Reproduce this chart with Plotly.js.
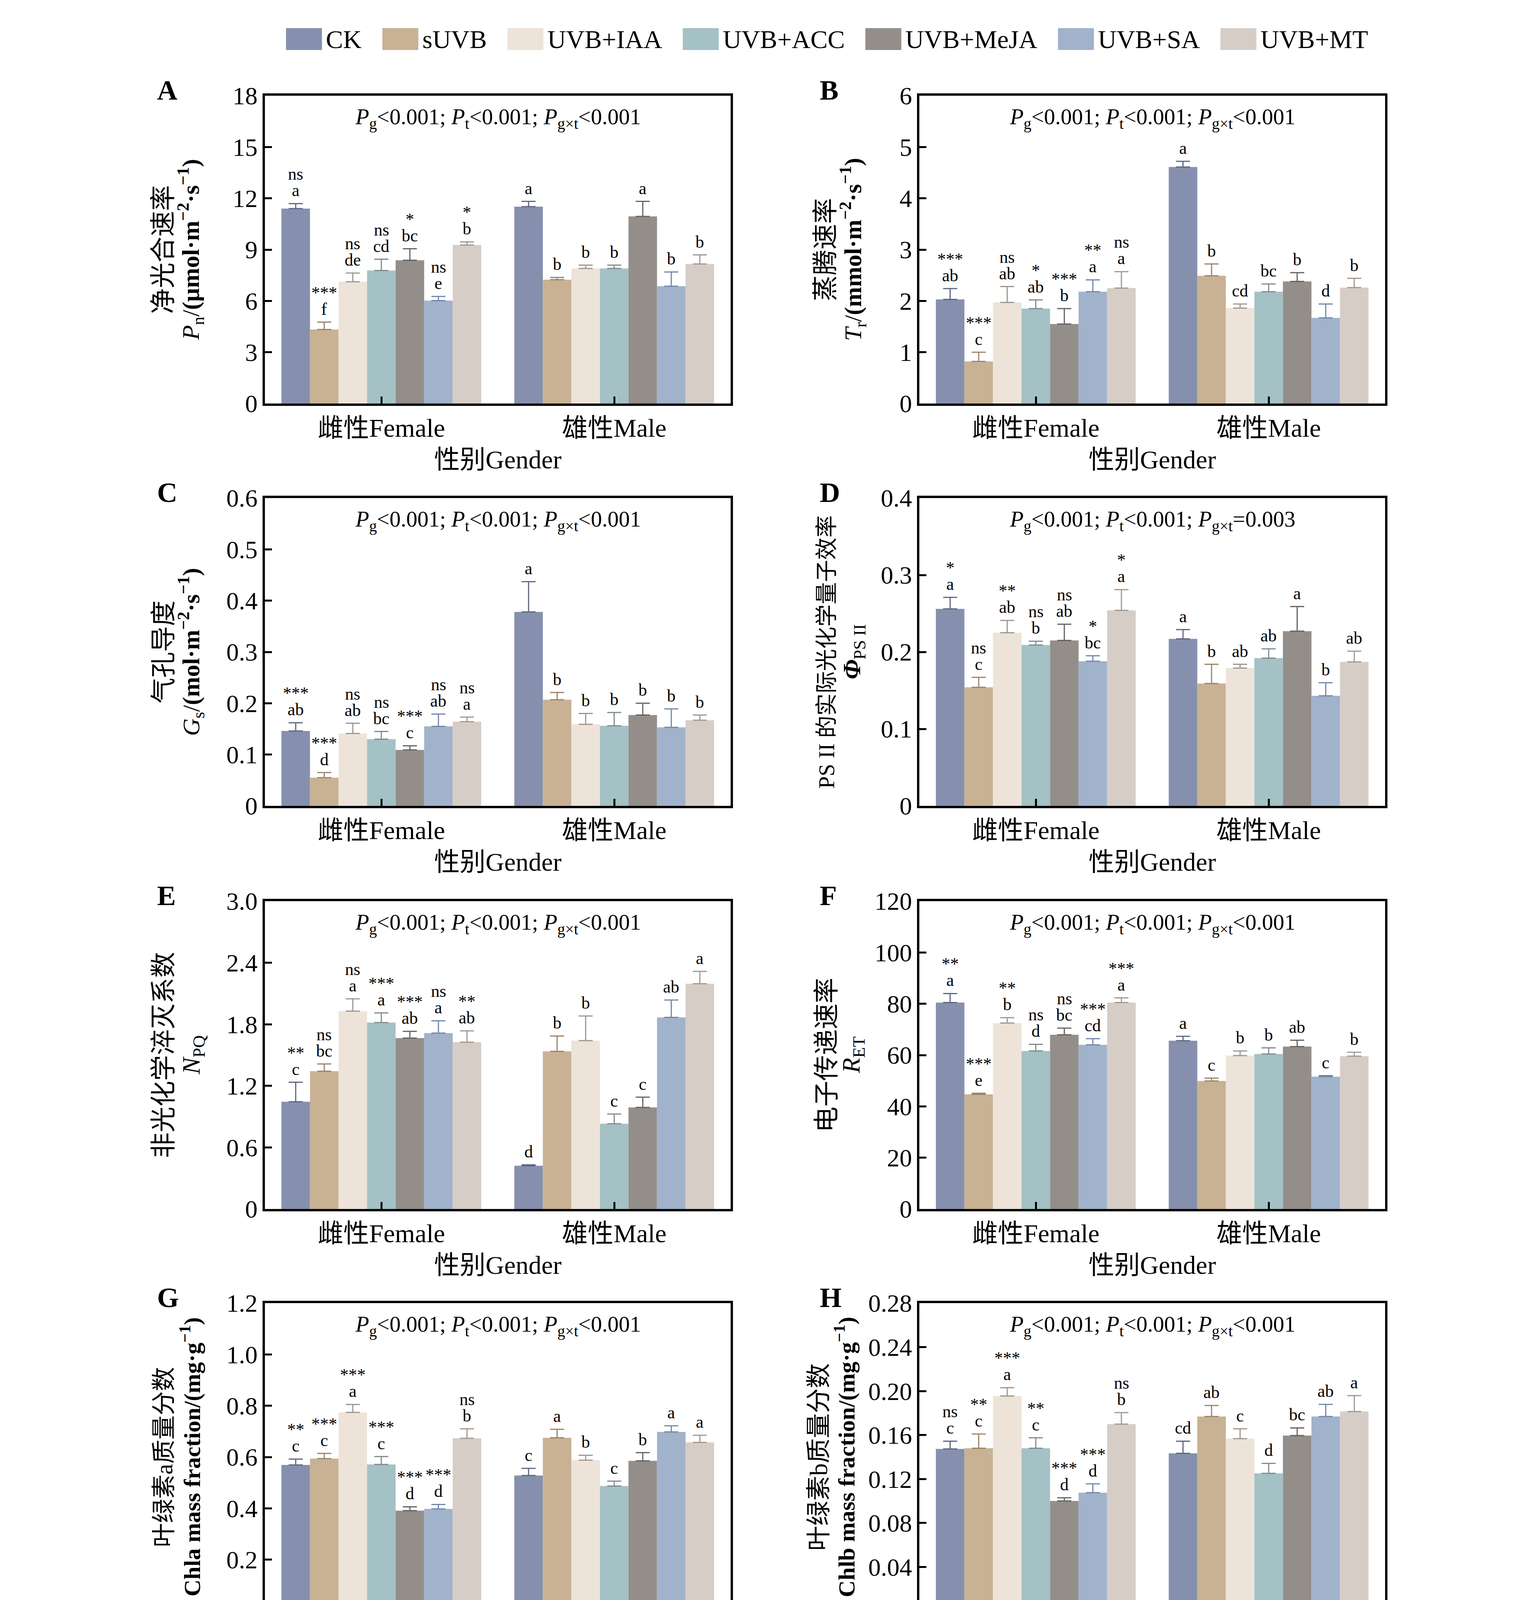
<!DOCTYPE html>
<html>
<head>
<meta charset="utf-8">
<script src="https://cdn.plot.ly/plotly-3.0.1.min.js"></script>
<style>
  body { margin: 0; background: #fff; }
  #chart { width: 3898px; height: 5339px; }
</style>
</head>
<body>
<div id="chart"></div>
<script>
// treatments and groups
const treatments = ["CK", "sUVB", "UVB+IAA", "UVB+ACC", "UVB+MeJA", "UVB+SA", "UVB+MT"];
const genders = ["雌性Female", "雄性Male"];

// A: net photosynthetic rate  [female, male]
const pnMean = [[11.40, 4.33, 7.12, 7.78, 8.38, 6.02, 9.27], [11.51, 7.24, 7.90, 7.90, 10.94, 6.86, 8.16]];
const pnErr = [[0.29, 0.43, 0.51, 0.66, 0.67, 0.24, 0.18], [0.31, 0.13, 0.19, 0.19, 0.88, 0.83, 0.53]];
const pnLetters = [["a", "f", "de", "cd", "bc", "e", "b"], ["a", "b", "b", "b", "a", "b", "b"]];
const pnSig = ["ns", "***", "ns", "ns", "*", "ns", "*"];
const pnTicks = ["0", "3", "6", "9", "12", "15", "18"];

// B: transpiration rate
const trMean = [[2.03, 0.82, 1.97, 1.85, 1.55, 2.18, 2.25], [4.61, 2.49, 1.86, 2.18, 2.38, 1.67, 2.26]];
const trErr = [[0.21, 0.18, 0.31, 0.17, 0.30, 0.23, 0.32], [0.11, 0.23, 0.08, 0.15, 0.17, 0.27, 0.18]];
const trLetters = [["ab", "c", "ab", "ab", "b", "a", "a"], ["a", "b", "cd", "bc", "b", "d", "b"]];
const trSig = ["***", "***", "ns", "*", "***", "**", "ns"];
const trTicks = ["0", "1", "2", "3", "4", "5", "6"];

// C: stomatal conductance
const gsMean = [[0.146, 0.055, 0.141, 0.130, 0.109, 0.155, 0.164], [0.378, 0.207, 0.159, 0.156, 0.177, 0.153, 0.167]];
const gsErr = [[0.016, 0.010, 0.020, 0.015, 0.008, 0.024, 0.009], [0.059, 0.014, 0.021, 0.026, 0.023, 0.036, 0.010]];
const gsLetters = [["ab", "d", "ab", "bc", "c", "ab", "a"], ["a", "b", "b", "b", "b", "b", "b"]];
const gsSig = ["***", "***", "ns", "ns", "***", "ns", "ns"];
const gsTicks = ["0", "0.1", "0.2", "0.3", "0.4", "0.5", "0.6"];

// D: actual photochemical efficiency of PSII
const phiMean = [[0.256, 0.154, 0.225, 0.209, 0.215, 0.188, 0.254], [0.217, 0.159, 0.179, 0.192, 0.227, 0.143, 0.187]];
const phiErr = [[0.015, 0.013, 0.016, 0.005, 0.021, 0.007, 0.027], [0.012, 0.025, 0.005, 0.012, 0.032, 0.017, 0.014]];
const phiLetters = [["a", "c", "ab", "b", "ab", "bc", "a"], ["a", "b", "ab", "ab", "a", "b", "ab"]];
const phiSig = ["*", "ns", "**", "ns", "ns", "*", "*"];
const phiTicks = ["0", "0.1", "0.2", "0.3", "0.4"];

// E: non-photochemical quenching
const npqMean = [[1.045, 1.343, 1.928, 1.817, 1.666, 1.714, 1.626], [0.422, 1.536, 1.641, 0.831, 0.990, 1.867, 2.196]];
const npqErr = [[0.19, 0.07, 0.12, 0.094, 0.065, 0.12, 0.11], [0.008, 0.15, 0.24, 0.094, 0.10, 0.17, 0.12]];
const npqLetters = [["c", "bc", "a", "a", "ab", "a", "ab"], ["d", "b", "b", "c", "c", "ab", "a"]];
const npqSig = ["**", "ns", "ns", "***", "***", "ns", "**"];
const npqTicks = ["0", "0.6", "1.2", "1.8", "2.4", "3.0"];

// F: electron transport rate
const etMean = [[80.5, 44.7, 72.5, 61.6, 67.9, 64.0, 80.5], [65.6, 49.9, 59.8, 60.4, 63.3, 51.6, 59.6]];
const etErr = [[3.5, 0.4, 2.1, 2.6, 2.6, 2.4, 1.8], [1.7, 1.1, 1.8, 2.4, 2.5, 0.4, 1.5]];
const etLetters = [["a", "e", "b", "d", "bc", "cd", "a"], ["a", "c", "b", "b", "ab", "c", "b"]];
const etSig = ["**", "***", "**", "ns", "ns", "***", "***"];
const etTicks = ["0", "20", "40", "60", "80", "100", "120"];

// G: chlorophyll a
const chlaMean = [[0.569, 0.594, 0.774, 0.571, 0.391, 0.398, 0.673], [0.528, 0.675, 0.588, 0.487, 0.585, 0.698, 0.657]];
const chlaErr = [[0.023, 0.020, 0.031, 0.031, 0.015, 0.017, 0.037], [0.028, 0.033, 0.019, 0.019, 0.032, 0.024, 0.028]];
const chlaLetters = [["c", "c", "a", "c", "d", "d", "b"], ["c", "a", "b", "c", "b", "a", "a"]];
const chlaSig = ["**", "***", "***", "***", "***", "***", "ns"];
const chlaTicks = ["0", "0.2", "0.4", "0.6", "0.8", "1.0", "1.2"];

// H: chlorophyll b
const chlbMean = [[0.1474, 0.148, 0.1955, 0.148, 0.100, 0.1076, 0.1699], [0.1434, 0.1769, 0.1567, 0.1252, 0.1595, 0.1769, 0.1814]];
const chlbErr = [[0.007, 0.013, 0.0076, 0.0095, 0.003, 0.008, 0.0105], [0.011, 0.010, 0.009, 0.009, 0.007, 0.011, 0.0145]];
const chlbLetters = [["c", "c", "a", "c", "d", "d", "b"], ["cd", "ab", "c", "d", "bc", "ab", "a"]];
const chlbSig = ["ns", "**", "***", "**", "***", "***", "ns"];
const chlbTicks = ["0", "0.04", "0.08", "0.12", "0.16", "0.20", "0.24", "0.28"];

// I: carotenoids
const caroMean = [[0.1528, 0.1688, 0.208, 0.1602, 0.1092, 0.1111, 0.1845], [0.1438, 0.1853, 0.164, 0.1421, 0.1595, 0.1893, 0.173]];
const caroErr = [[0.0082, 0.0105, 0.0082, 0.0088, 0.0042, 0.0124, 0.0057], [0.0064, 0.0124, 0.0125, 0.0081, 0.0103, 0.0122, 0.0083]];
const caroLetters = [["d", "bc", "a", "cd", "e", "e", "b"], ["c", "a", "b", "c", "bc", "a", "ab"]];
const caroSig = ["ns", "*", "***", "**", "***", "***", "*"];
const caroTicks = ["0", "0.06", "0.12", "0.18", "0.24", "0.30"];

// styling
const barColors = ["#8690ae", "#c9b193", "#ede3d9", "#a4c1c5", "#938e8a", "#a1b2cb", "#d6cdc7"];
const errColors = ["#5d6482", "#9a8369", "#a0958d", "#7f8b8e", "#65605c", "#6f87ab", "#a39890"];
const FONT = "'Liberation Serif', 'Times New Roman', 'Noto Sans CJK SC', serif";
const W = 3898, H = 5339;
const colLeft = [678, 2353];
const boxW = 1192;
const rowTop = [245, 1275, 2307, 3336, 4366];
const boxH = 788;
const bargap = 0.142;
const barW = (1 - bargap) / treatments.length;

const unitFlux = "·m<sup>−2</sup>·s<sup>−1</sup>)</b>";
const unitMass = "/(mg·g<sup>−1</sup>)</b>";
const panels = [
  { id: "A", mean: pnMean, err: pnErr, letters: pnLetters, sig: pnSig, ticks: pnTicks, p: "&lt;0.001",
    title: ["净光合速率", "<i>P</i><sub>n</sub>/<b>(μmol" + unitFlux], tf: [66, 62], tx: [-260, -190] },
  { id: "B", mean: trMean, err: trErr, letters: trLetters, sig: trSig, ticks: trTicks, p: "&lt;0.001",
    title: ["蒸腾速率", "<i>T</i><sub>r</sub>/<b>(mmol" + unitFlux], tf: [66, 62], tx: [-240, -170] },
  { id: "C", mean: gsMean, err: gsErr, letters: gsLetters, sig: gsSig, ticks: gsTicks, p: "&lt;0.001",
    title: ["气孔导度", "<i>G</i><sub>s</sub>/<b>(mol" + unitFlux], tf: [66, 62], tx: [-260, -190] },
  { id: "D", mean: phiMean, err: phiErr, letters: phiLetters, sig: phiSig, ticks: phiTicks, p: "=0.003",
    title: ["PS II 的实际光化学量子效率", "<b><i>Φ</i></b><sub>PS II</sub>"], tf: [57, 64], tx: [-238, -168] },
  { id: "E", mean: npqMean, err: npqErr, letters: npqLetters, sig: npqSig, ticks: npqTicks, p: "&lt;0.001",
    title: ["非光化学淬灭系数", "<i>N</i><sub>PQ</sub>"], tf: [66, 64], tx: [-260, -184] },
  { id: "F", mean: etMean, err: etErr, letters: etLetters, sig: etSig, ticks: etTicks, p: "&lt;0.001",
    title: ["电子传递速率", "<i>R</i><sub>ET</sub>"], tf: [66, 64], tx: [-238, -170] },
  { id: "G", mean: chlaMean, err: chlaErr, letters: chlaLetters, sig: chlaSig, ticks: chlaTicks, p: "&lt;0.001",
    title: ["叶绿素a质量分数", "<b>Chla mass fraction" + unitMass], tf: [62, 60], tx: [-258, -191] },
  { id: "H", mean: chlbMean, err: chlbErr, letters: chlbLetters, sig: chlbSig, ticks: chlbTicks, p: "&lt;0.001",
    title: ["叶绿素b质量分数", "<b>Chlb mass fraction" + unitMass], tf: [64, 60], tx: [-258, -191] },
  { id: "I", mean: caroMean, err: caroErr, letters: caroLetters, sig: caroSig, ticks: caroTicks, p: "&lt;0.001",
    title: ["类胡萝卜素质量分数", "<b>Caro mass fraction" + unitMass], tf: [70, 60], tx: [-259, -192] },
];

const data = [];
const annotations = [];
const shapes = [];
const layout = {
  width: W,
  height: H,
  margin: { l: 0, r: 0, t: 0, b: 0 },
  paper_bgcolor: "#fff",
  plot_bgcolor: "rgba(0,0,0,0)",
  barmode: "group",
  bargap: bargap,
  bargroupgap: 0,
  showlegend: false,
  font: { family: FONT, color: "#000" },
};

panels.forEach((p, k) => {
  const n = k + 1;
  const sfx = n === 1 ? "" : String(n);
  const col = k % 2;
  const row = Math.floor(k / 2);
  const x0 = colLeft[col];
  const top = rowTop[row];
  const tickvals = p.ticks.map(Number);

  layout["xaxis" + sfx] = {
    domain: [x0 / W, (x0 + boxW) / W],
    anchor: "y" + sfx,
    range: [-0.5, 1.5],
    tickvals: [0, 1],
    ticktext: genders,
    ticks: "inside",
    ticklen: 18,
    tickwidth: 5,
    tickcolor: "#000",
    showline: true,
    linewidth: 6,
    linecolor: "#000",
    mirror: true,
    showgrid: false,
    zeroline: false,
    fixedrange: true,
    tickfont: { family: FONT, size: 66, color: "#000" },
    title: { text: "性别Gender", font: { family: FONT, size: 66, color: "#000" }, standoff: 24 },
  };
  layout["yaxis" + sfx] = {
    domain: [1 - (top + boxH) / H, 1 - top / H],
    anchor: "x" + sfx,
    range: [0, tickvals[tickvals.length - 1]],
    tickvals: tickvals,
    ticktext: p.ticks,
    ticks: "inside",
    ticklen: 18,
    tickwidth: 5,
    tickcolor: "#000",
    showline: true,
    linewidth: 6,
    linecolor: "#000",
    mirror: true,
    showgrid: false,
    zeroline: false,
    fixedrange: true,
    tickfont: { family: FONT, size: 64, color: "#000" },
  };

  // bars, one trace per treatment
  treatments.forEach((t, i) => {
    data.push({
      type: "bar",
      name: t,
      x: [0, 1],
      y: [p.mean[0][i], p.mean[1][i]],
      xaxis: "x" + sfx,
      yaxis: "y" + sfx,
      marker: { color: barColors[i], line: { width: 0 } },
      error_y: {
        type: "data",
        symmetric: false,
        array: [p.err[0][i], p.err[1][i]],
        arrayminus: [0, 0],
        color: errColors[i],
        thickness: 3,
        width: 18,
      },
      hoverinfo: "skip",
    });

    // letters over both groups, significance marks over females
    [0, 1].forEach((g) => {
      const barTop = p.mean[g][i] + p.err[g][i];
      const xpos = g + (i - 3) * barW;
      annotations.push({
        xref: "x" + sfx, yref: "y" + sfx, x: xpos, y: barTop,
        text: p.letters[g][i], showarrow: false,
        xanchor: "center", yanchor: "bottom", yshift: 7,
        font: { family: FONT, size: 44, color: "#000" },
      });
      if (g === 0) {
        annotations.push({
          xref: "x" + sfx, yref: "y" + sfx, x: xpos, y: barTop,
          text: p.sig[i], showarrow: false,
          xanchor: "center", yanchor: "bottom", yshift: 49,
          font: { family: FONT, size: 44, color: "#000" },
        });
      }
    });
  });

  const xd = "x" + sfx + " domain";
  const yd = "y" + sfx + " domain";
  // panel letter
  annotations.push({
    xref: xd, yref: yd, x: 0, y: 1, xanchor: "left", yanchor: "middle",
    xshift: col === 0 ? -278 : -257, yshift: 14,
    text: "<b>" + p.id + "</b>", showarrow: false,
    font: { family: FONT, size: 72, color: "#000" },
  });
  // two-way ANOVA result
  annotations.push({
    xref: xd, yref: yd, x: 0.5, y: 1, xanchor: "center", yanchor: "middle", yshift: -58,
    text: "<i>P</i><sub>g</sub>&lt;0.001; <i>P</i><sub>t</sub>&lt;0.001; <i>P</i><sub>g×t</sub>" + p.p,
    showarrow: false,
    font: { family: FONT, size: 57, color: "#000" },
  });
  // y axis title in two lines
  p.title.forEach((line, j) => {
    annotations.push({
      xref: xd, yref: yd, x: 0, y: 0.5, xanchor: "center", yanchor: "middle",
      xshift: p.tx[j], textangle: -90,
      text: line, showarrow: false,
      font: { family: FONT, size: p.tf[j], color: "#000" },
    });
  });
});

// legend row drawn across the top
const ctx = document.createElement("canvas").getContext("2d");
ctx.font = "66px 'Liberation Serif'";
let lx = 732;
treatments.forEach((t, i) => {
  shapes.push({
    type: "rect", xref: "paper", yref: "paper",
    x0: lx / W, x1: (lx + 92) / W, y0: 1 - 128 / H, y1: 1 - 72 / H,
    fillcolor: barColors[i], line: { width: 0 },
  });
  annotations.push({
    xref: "paper", yref: "paper", x: (lx + 100) / W, y: 1 - 100 / H,
    xanchor: "left", yanchor: "middle", text: t, showarrow: false,
    font: { family: FONT, size: 66, color: "#000" },
  });
  lx += 100 + ctx.measureText(t).width + 55;
});

layout.annotations = annotations;
layout.shapes = shapes;

Plotly.newPlot("chart", data, layout, { displayModeBar: false, staticPlot: true });
</script>
</body>
</html>
